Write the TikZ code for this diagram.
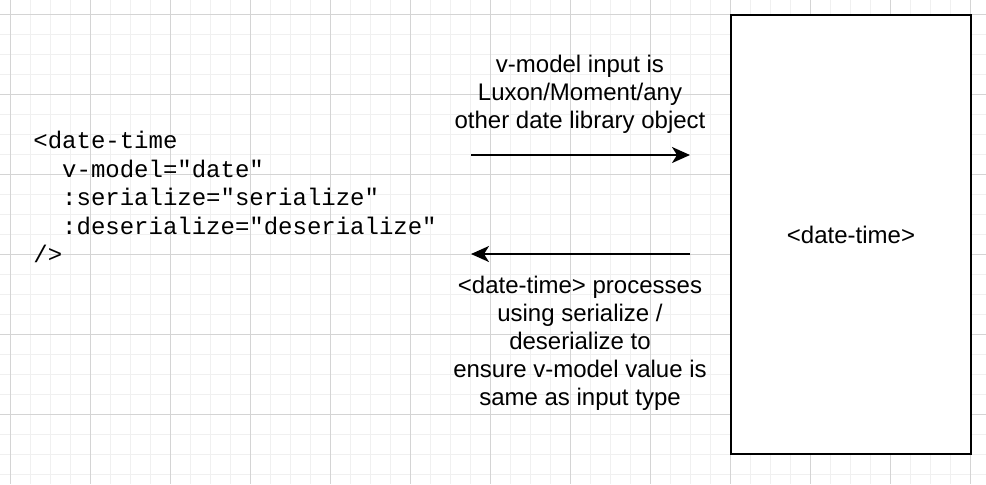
\documentclass[tikz,border=0pt]{standalone}
\usepackage{fontspec}
\setmainfont{Liberation Sans}
\setmonofont{Liberation Mono}
\usetikzlibrary{arrows.meta}
\definecolor{gridminor}{HTML}{F0F0F0}
\definecolor{gridmajor}{HTML}{D4D4D4}
\tikzset{
  flow/.style={line width=1pt, -{Stealth[length=9pt, width=8pt, inset=2.5pt]}},
  note/.style={align=center, inner sep=0pt, font=\fontsize{12}{14}\selectfont},
}

\begin{document}
\begin{tikzpicture}[x=0.5pt, y=-0.5pt]
			%%%%% START %%%%%
			\useasboundingbox (0, 0) rectangle (986, 484);
			\fill[white] (0, 0) rectangle (986, 484);
			
			% grid
			\foreach \gx in {10, 30, ..., 990} \draw[gridminor, line width=0.5pt] (\gx, 0) -- (\gx, 484);
			\foreach \gy in {14, 34, ..., 484} \draw[gridminor, line width=0.5pt] (0, \gy) -- (986, \gy);
			\foreach \gx in {10, 90, ..., 970} \draw[gridmajor, line width=0.5pt] (\gx, 0) -- (\gx, 484);
			\foreach \gy in {14, 94, ..., 484} \draw[gridmajor, line width=0.5pt] (0, \gy) -- (986, \gy);
			
			% component usage
			\node[anchor=west, align=left, inner sep=0pt, font=\ttfamily\fontsize{12}{14.25}\selectfont] (usage) at (33, 197)
				{<date-time\\
				\ \ v-model="date"\\
				\ \ :serialize="serialize"\\
				\ \ :deserialize="deserialize"\\
				/>};
			
			% the component
			\node[draw, line width=1pt, fill=white, minimum width=120pt, minimum height=219.5pt, font=\fontsize{12}{14}\selectfont] (datetime) at (851, 234.5) {<date-time>};
			
			% input
			\node[note] (inputnote) at (580, 94) {v-model input is\\ Luxon/Moment/any\\ other date library object};
			\coordinate (inA) at (471, 155);
			\coordinate (inB) at (690, 155);
			\draw[flow] (inA) -- (inB);
			
			% output
			\coordinate (outA) at (690, 254);
			\coordinate (outB) at (471, 254);
			\draw[flow] (outA) -- (outB);
			\node[note] (outputnote) at (580, 343) {<date-time> processes\\ using serialize /\\ deserialize to\\ ensure v-model value is\\ same as input type};
			%%%%% END %%%%%
\end{tikzpicture}
\end{document}
